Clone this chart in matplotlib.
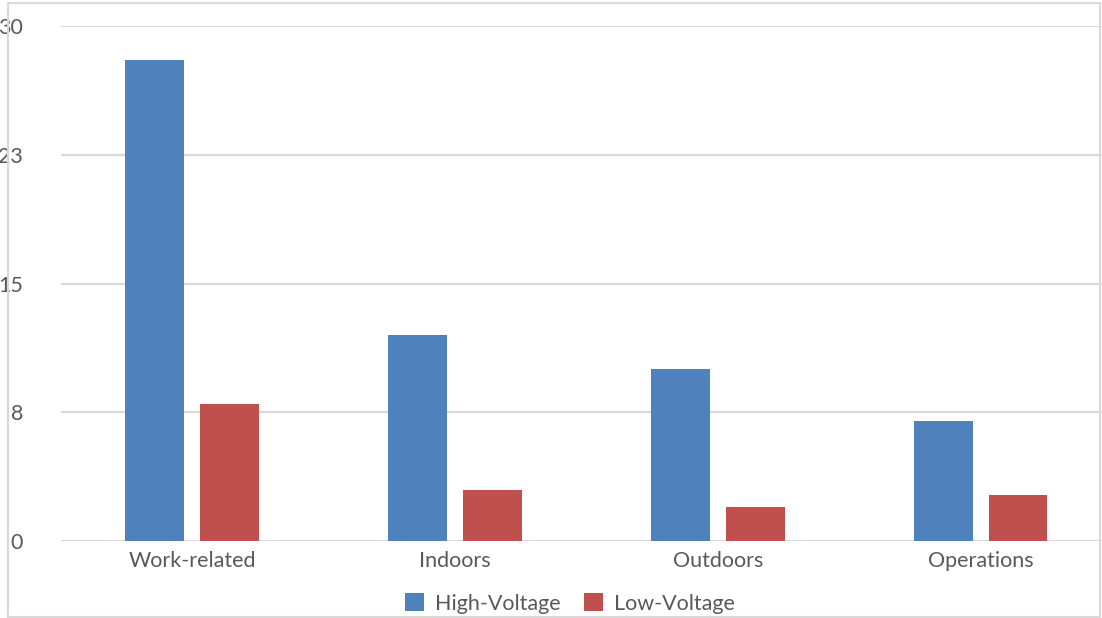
import numpy as np
import matplotlib.pyplot as plt
from matplotlib.patches import Rectangle

# data
categories = ["Work-related", "Indoors", "Outdoors", "Operations"]
high_voltage = [28, 12, 10, 7]
low_voltage = [8, 3, 2, 2.7]
tick_vals = [0, 7.5, 15, 22.5, 30]
tick_labels = ["0", "8", "15", "23", "30"]

blue = "#4F81BD"
red = "#C0504D"
grey_txt = "#595959"
fs = 15.5

plt.rcParams['font.family'] = ['Lato', 'DejaVu Sans']

fig = plt.figure(figsize=(11.02, 6.18), dpi=100)
# plot area runs a little past the right edge (chart is cropped)
ax = fig.add_axes([60.5/1102, 1-541/618, (1112-60.5)/1102, (541-26)/618])

x = np.arange(len(categories))
w = 0.224
gap = 0.061
ax.bar(x - (w+gap)/2, high_voltage, w, color=blue, label="High-Voltage", zorder=3)
ax.bar(x + (w+gap)/2, low_voltage, w, color=red, label="Low-Voltage", zorder=3)

ax.set_xlim(-0.5, len(categories)-0.5)
ax.set_ylim(0, 30)
ax.set_yticks(tick_vals)
ax.set_yticklabels(tick_labels)
ax.set_xticks(x)
ax.set_xticklabels(categories)
ax.tick_params(axis='both', length=0, labelsize=fs, colors=grey_txt)
ax.tick_params(axis='y', pad=27)
ax.tick_params(axis='x', pad=7)
ax.yaxis.grid(True, color="#d9d9d9", linewidth=1.6, zorder=0)
for s in ax.spines.values():
    s.set_visible(False)

fig.legend(loc='center', bbox_to_anchor=(570/1102, 1-603.5/618), ncol=2,
           frameon=False, fontsize=fs, labelcolor=grey_txt,
           handlelength=0.88, handleheight=0.88, columnspacing=1.1, handletextpad=0.5)

# light chart border
fig.patches.append(Rectangle((8/1102, 1-617/618), (1100-8)/1102, (617-3)/618,
                             transform=fig.transFigure, fill=False,
                             edgecolor="#d9d9d9", linewidth=1.5))

fig.savefig("out.png", dpi=100)
